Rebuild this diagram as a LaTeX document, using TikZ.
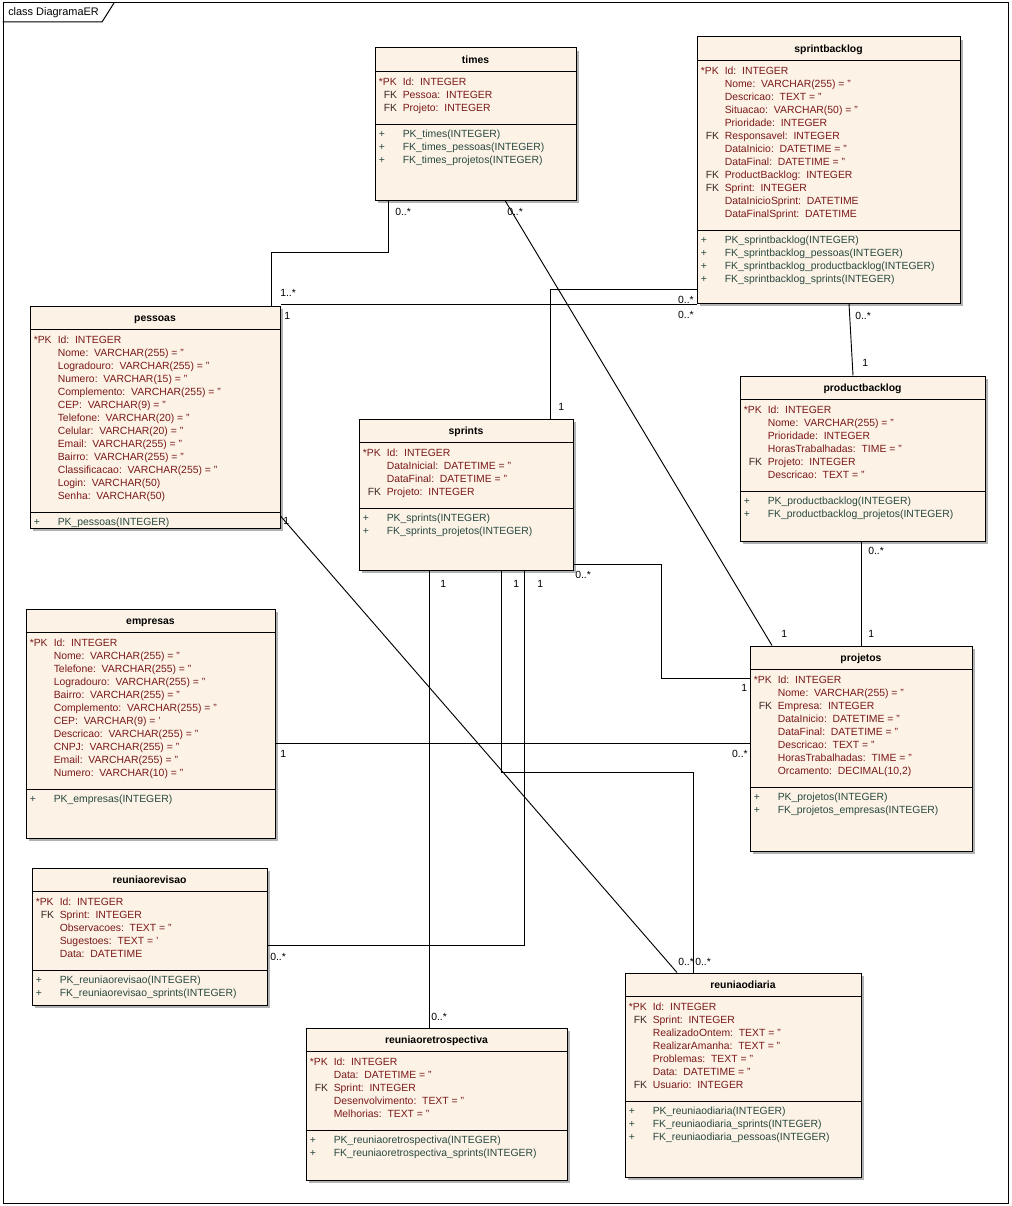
\documentclass[tikz,border=0pt]{standalone}
\usepackage{fontspec}
\setmainfont{Liberation Sans}
\usetikzlibrary{fit,shadows,calc}
\definecolor{boxfill}{RGB}{252,243,230}
\definecolor{attrcol}{RGB}{122,24,24}
\definecolor{fkcol}{RGB}{60,36,36}
\definecolor{methcol}{RGB}{40,72,64}
\newcommand\colsp{:\ \ }
\newcommand\pk{\leavevmode{\color{attrcol}*PK}}
\newcommand\fk{\leavevmode\hspace*{3.75pt}{\color{fkcol}FK}}
\tikzset{
  tbl/.style={draw=black, line width=0.75pt, fill=boxfill, inner sep=0pt,
    drop shadow={shadow xshift=2.2pt, shadow yshift=-2.2pt, fill=black!30, opacity=1}},
  ttl/.style={font=\fontsize{7.8}{9.75}\selectfont\bfseries, inner sep=0pt, anchor=base},
  rowtxt/.style={anchor=north west, inner sep=0pt, font=\fontsize{7.8}{9.75}\selectfont},
  sepl/.style={draw=black, line width=0.75pt},
  conn/.style={draw=black, line width=0.7pt},
  multlab/.style={font=\fontsize{7.8}{9.75}\selectfont, inner sep=0pt, anchor=west},
  multlabr/.style={font=\fontsize{7.8}{9.75}\selectfont, inner sep=0pt, anchor=east},
}
% name x1 y1 x2 y2 title sep2 attrs methods
\newcommand\ertable[9]{%
  \node[tbl, fit={(#2,#3)(#4,#5)}] (#1) {};
  \node[ttl] (#1-t) at ($(#1.north)+(0,16)$) {#6};
  \draw[sepl] ($(#1.north west)+(0,24)$) -- ($(#1.north east)+(0,24)$);
  \draw[sepl] (#1.west |- 0,#7) -- (#1.east |- 0,#7);
  \node[rowtxt, text=attrcol] (#1-a) at ($(#1.north west)+(4,28.6)$)
    {\begin{tabular}{@{}p{18pt}@{}l@{}}#8\end{tabular}};
  \node[rowtxt, text=methcol] (#1-m) at ($(#1.west |- 0,#7)+(4,4.6)$)
    {\begin{tabular}{@{}p{18pt}@{}l@{}}#9\end{tabular}};
}
\begin{document}
\begin{tikzpicture}[x=0.75pt,y=-0.75pt]
\fill[white] (0,0) rectangle (1011,1206);
\useasboundingbox (0,0) rectangle (1011,1206);

% frame
\node[draw, line width=0.75pt, fit={(3,3)(1008,1203)}, inner sep=0pt] (frame) {};
\draw[line width=0.75pt] (frame.west |- 0,22) -- (102,22) -- (114,3);
\node[anchor=west, font=\fontsize{8.2}{10}\selectfont, inner sep=0pt] (frametitle) at (8,13) {class DiagramaER};

% tables
\ertable{times}{375}{48}{576}{200}{times}{124}
{\pk & Id\colsp INTEGER\\
 \fk & Pessoa\colsp INTEGER\\
 \fk & Projeto\colsp INTEGER}
{+ & PK\_times(INTEGER)\\
 + & FK\_times\_pessoas(INTEGER)\\
 + & FK\_times\_projetos(INTEGER)}

\ertable{sprintbacklog}{697}{37}{960}{303}{sprintbacklog}{230}
{\pk & Id\colsp INTEGER\\
 & Nome\colsp VARCHAR(255) = ''\\
 & Descricao\colsp TEXT = ''\\
 & Situacao\colsp VARCHAR(50) = ''\\
 & Prioridade\colsp INTEGER\\
 \fk & Responsavel\colsp INTEGER\\
 & DataInicio\colsp DATETIME = ''\\
 & DataFinal\colsp DATETIME = ''\\
 \fk & ProductBacklog\colsp INTEGER\\
 \fk & Sprint\colsp INTEGER\\
 & DataInicioSprint\colsp DATETIME\\
 & DataFinalSprint\colsp DATETIME}
{+ & PK\_sprintbacklog(INTEGER)\\
 + & FK\_sprintbacklog\_pessoas(INTEGER)\\
 + & FK\_sprintbacklog\_productbacklog(INTEGER)\\
 + & FK\_sprintbacklog\_sprints(INTEGER)}

\ertable{pessoas}{30}{306}{280}{528}{pessoas}{512}
{\pk & Id\colsp INTEGER\\
 & Nome\colsp VARCHAR(255) = ''\\
 & Logradouro\colsp VARCHAR(255) = ''\\
 & Numero\colsp VARCHAR(15) = ''\\
 & Complemento\colsp VARCHAR(255) = ''\\
 & CEP\colsp VARCHAR(9) = ''\\
 & Telefone\colsp VARCHAR(20) = ''\\
 & Celular\colsp VARCHAR(20) = ''\\
 & Email\colsp VARCHAR(255) = ''\\
 & Bairro\colsp VARCHAR(255) = ''\\
 & Classificacao\colsp VARCHAR(255) = ''\\
 & Login\colsp VARCHAR(50)\\
 & Senha\colsp VARCHAR(50)}
{+ & PK\_pessoas(INTEGER)}

\ertable{sprints}{359}{419}{573}{570}{sprints}{508}
{\pk & Id\colsp INTEGER\\
 & DataInicial\colsp DATETIME = ''\\
 & DataFinal\colsp DATETIME = ''\\
 \fk & Projeto\colsp INTEGER}
{+ & PK\_sprints(INTEGER)\\
 + & FK\_sprints\_projetos(INTEGER)}

\ertable{productbacklog}{740}{376}{985}{541}{productbacklog}{491}
{\pk & Id\colsp INTEGER\\
 & Nome\colsp VARCHAR(255) = ''\\
 & Prioridade\colsp INTEGER\\
 & HorasTrabalhadas\colsp TIME = ''\\
 \fk & Projeto\colsp INTEGER\\
 & Descricao\colsp TEXT = ''}
{+ & PK\_productbacklog(INTEGER)\\
 + & FK\_productbacklog\_projetos(INTEGER)}

\ertable{empresas}{26}{609}{275}{838}{empresas}{789}
{\pk & Id\colsp INTEGER\\
 & Nome\colsp VARCHAR(255) = ''\\
 & Telefone\colsp VARCHAR(255) = ''\\
 & Logradouro\colsp VARCHAR(255) = ''\\
 & Bairro\colsp VARCHAR(255) = ''\\
 & Complemento\colsp VARCHAR(255) = ''\\
 & CEP\colsp VARCHAR(9) = '\\
 & Descricao\colsp VARCHAR(255) = ''\\
 & CNPJ\colsp VARCHAR(255) = ''\\
 & Email\colsp VARCHAR(255) = ''\\
 & Numero\colsp VARCHAR(10) = ''}
{+ & PK\_empresas(INTEGER)}

\ertable{projetos}{750}{646}{972}{851}{projetos}{787}
{\pk & Id\colsp INTEGER\\
 & Nome\colsp VARCHAR(255) = ''\\
 \fk & Empresa\colsp INTEGER\\
 & DataInicio\colsp DATETIME = ''\\
 & DataFinal\colsp DATETIME = ''\\
 & Descricao\colsp TEXT = ''\\
 & HorasTrabalhadas\colsp TIME = ''\\
 & Orcamento\colsp DECIMAL(10,2)}
{+ & PK\_projetos(INTEGER)\\
 + & FK\_projetos\_empresas(INTEGER)}

\ertable{reuniaorevisao}{32}{868}{267}{1005}{reuniaorevisao}{970}
{\pk & Id\colsp INTEGER\\
 \fk & Sprint\colsp INTEGER\\
 & Observacoes\colsp TEXT = ''\\
 & Sugestoes\colsp TEXT = '\\
 & Data\colsp DATETIME}
{+ & PK\_reuniaorevisao(INTEGER)\\
 + & FK\_reuniaorevisao\_sprints(INTEGER)}

\ertable{reuniaoretrospectiva}{306}{1028}{567}{1180}{reuniaoretrospectiva}{1130}
{\pk & Id\colsp INTEGER\\
 & Data\colsp DATETIME = ''\\
 \fk & Sprint\colsp INTEGER\\
 & Desenvolvimento\colsp TEXT = ''\\
 & Melhorias\colsp TEXT = ''}
{+ & PK\_reuniaoretrospectiva(INTEGER)\\
 + & FK\_reuniaoretrospectiva\_sprints(INTEGER)}

\ertable{reuniaodiaria}{625}{973}{861}{1177}{reuniaodiaria}{1101}
{\pk & Id\colsp INTEGER\\
 \fk & Sprint\colsp INTEGER\\
 & RealizadoOntem\colsp TEXT = ''\\
 & RealizarAmanha\colsp TEXT = ''\\
 & Problemas\colsp TEXT = ''\\
 & Data\colsp DATETIME = ''\\
 \fk & Usuario\colsp INTEGER}
{+ & PK\_reuniaodiaria(INTEGER)\\
 + & FK\_reuniaodiaria\_sprints(INTEGER)\\
 + & FK\_reuniaodiaria\_pessoas(INTEGER)}

% connectors
\draw[conn] (times.south -| 388,0) -- (388,252) -| (pessoas.north -| 271,0);
\draw[conn] (pessoas.north east |- 0,304) -- (sprintbacklog.west |- 0,304);
\draw[conn] (sprints.north -| 550,0) |- (sprintbacklog.west |- 0,289);
\draw[conn] (times.south -| 505,0) -- (projetos.north -| 772,0);
\draw[conn] (sprintbacklog.south -| 849,0) -- (productbacklog.north -| 853,0);
\draw[conn] (productbacklog.south -| 861,0) -- (projetos.north -| 861,0);
\draw[conn] (sprints.east |- 0,564) -| (661,678) -- (projetos.west |- 0,678);
\draw[conn] (empresas.east |- 0,743) -- (projetos.west |- 0,743);
\draw[conn] (pessoas.east |- 0,516) -- (reuniaodiaria.north -| 677,0);
\draw[conn] (sprints.south -| 429,0) -- (reuniaoretrospectiva.north -| 429,0);
\draw[conn] (sprints.south -| 501,0) |- (693,772) -- (reuniaodiaria.north -| 693,0);
\draw[conn] (sprints.south -| 524,0) |- (reuniaorevisao.east |- 0,945);

% multiplicities
\node[multlab] (m1) at (395,212) {0..*};
\node[multlab] (m2) at (280,293) {1..*};
\node[multlab] (m3) at (284,316) {1};
\node[multlabr] (m4) at (694,300) {0..*};
\node[multlabr] (m5) at (694,315) {0..*};
\node[multlab] (m6) at (507,212) {0..*};
\node[multlab] (m7) at (558,407) {1};
\node[multlab] (m8) at (855,316) {0..*};
\node[multlab] (m9) at (862,363) {1};
\node[multlab] (m10) at (868,551) {0..*};
\node[multlab] (m11) at (868,634) {1};
\node[multlab] (m12) at (781,634) {1};
\node[multlab] (m13) at (575,575) {0..*};
\node[multlab] (m14) at (741,688) {1};
\node[multlab] (m15) at (280,754) {1};
\node[multlabr] (m16) at (748,754) {0..*};
\node[multlab] (m17) at (283,521) {1};
\node[multlab] (m18) at (440,584) {1};
\node[multlab] (m19) at (513,584) {1};
\node[multlab] (m20) at (537,584) {1};
\node[multlab] (m21) at (270,957) {0..*};
\node[multlab] (m22) at (431,1017) {0..*};
\node[multlab] (m23) at (678,962) {0..*};
\node[multlab] (m24) at (695,962) {0..*};
\end{tikzpicture}
\end{document}
